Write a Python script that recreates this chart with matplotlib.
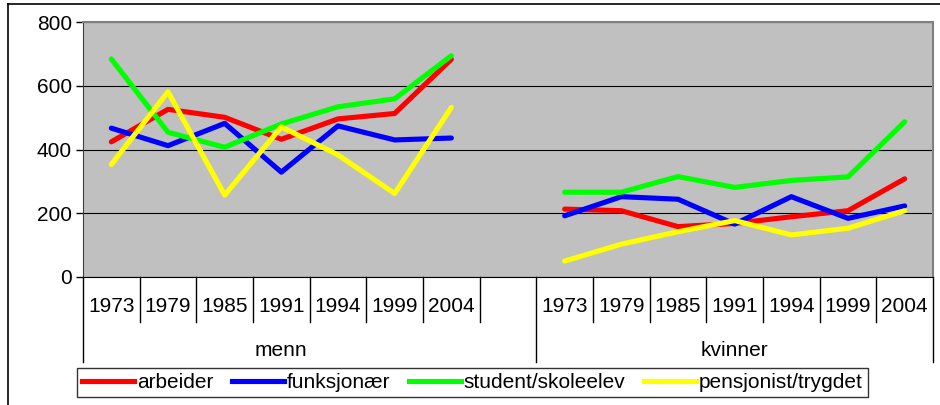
import matplotlib.pyplot as plt
from matplotlib.lines import Line2D

plt.rcParams['font.family'] = ['Liberation Sans', 'DejaVu Sans']

years = ['1973', '1979', '1985', '1991', '1994', '1999', '2004']
groups = ['menn', 'kvinner']
series = ['arbeider', 'funksjonær', 'student/skoleelev', 'pensjonist/trygdet']
colors = ['#FF0000', '#0000FF', '#00FF00', '#FFFF00']

# menn
menn_arbeider = [424, 526, 501, 432, 496, 513, 683]
menn_funksjonaer = [467, 412, 482, 329, 474, 430, 436]
menn_student = [684, 454, 407, 480, 534, 559, 694]
menn_pensjonist = [353, 581, 257, 471, 383, 262, 532]
# kvinner
kvinner_arbeider = [213, 208, 158, 168, 189, 208, 308]
kvinner_funksjonaer = [192, 252, 244, 166, 252, 184, 223]
kvinner_student = [266, 266, 315, 281, 303, 314, 487]
kvinner_pensjonist = [50, 103, 142, 177, 132, 153, 208]

menn = [menn_arbeider, menn_funksjonaer, menn_student, menn_pensjonist]
kvinner = [kvinner_arbeider, kvinner_funksjonaer, kvinner_student, kvinner_pensjonist]

W, H = 940, 405
fig = plt.figure(figsize=(W / 100, H / 100), dpi=100)
ax = fig.add_axes([83 / W, (H - 277) / H, 850 / W, 255 / H])
ax.set_facecolor('#C0C0C0')

n = len(years)
x_menn = list(range(n))
x_kvinner = list(range(n + 1, 2 * n + 1))

for m, k, c in zip(menn, kvinner, colors):
    ax.plot(x_menn, m, color=c, lw=3.7, solid_capstyle='round', solid_joinstyle='round')
    ax.plot(x_kvinner, k, color=c, lw=3.7, solid_capstyle='round', solid_joinstyle='round')

ax.set_xlim(-0.5, 2 * n + 0.5)
ax.set_ylim(0, 800)
ax.set_yticks([0, 200, 400, 600, 800])
ax.tick_params(axis='y', labelsize=15, length=5, width=1, direction='out', pad=3)
ax.set_xticks([])
ax.yaxis.grid(True, color='#000000', lw=0.8)
ax.set_axisbelow(True)

for s in ['top', 'right']:
    ax.spines[s].set_color('#808080')
    ax.spines[s].set_linewidth(1.5)
ax.spines['left'].set_color('#404040')
ax.spines['bottom'].set_color('#000000')

# category axis: year labels and separators
tr = ax.get_xaxis_transform()
yr_depth = 45 / 255
grp_depth = 85 / 255
for i, yv in enumerate(years):
    for xpos in (x_menn[i], x_kvinner[i]):
        ax.text(xpos, -30 / 255, yv, transform=tr, ha='center', va='center', fontsize=15)
for xs in [i + 0.5 for i in range(n)] + [i + 0.5 for i in range(n + 1, 2 * n)]:
    ax.add_line(Line2D([xs, xs], [0, -yr_depth], transform=tr, color='black', lw=1, clip_on=False))
for xs in [-0.5, n + 0.5, 2 * n + 0.5]:
    ax.add_line(Line2D([xs, xs], [0, -grp_depth], transform=tr, color='black', lw=1, clip_on=False))
ax.text((n - 1) / 2, -74 / 255, groups[0], transform=tr, ha='center', va='center', fontsize=15)
ax.text((3 * n + 1) / 2, -74 / 255, groups[1], transform=tr, ha='center', va='center', fontsize=15)

# outer chart border
fig.add_artist(Line2D([8 / W, 1], [(H - 4) / H] * 2, color='black', lw=1.2))
fig.add_artist(Line2D([8 / W] * 2, [0, (H - 4) / H], color='black', lw=1.2))

handles = [Line2D([], [], color=c, lw=3.7) for c in colors]
leg = fig.legend(handles, series, loc='lower left', bbox_to_anchor=(77 / W, (H - 397) / H),
                 ncol=4, fontsize=15, frameon=True, fancybox=False, shadow=False,
                 handlelength=2.5, handletextpad=0.12, columnspacing=0.9,
                 borderpad=0.25, borderaxespad=0)
leg.get_frame().set_edgecolor('black')
leg.get_frame().set_linewidth(1)

fig.savefig('out.png', dpi=100)
